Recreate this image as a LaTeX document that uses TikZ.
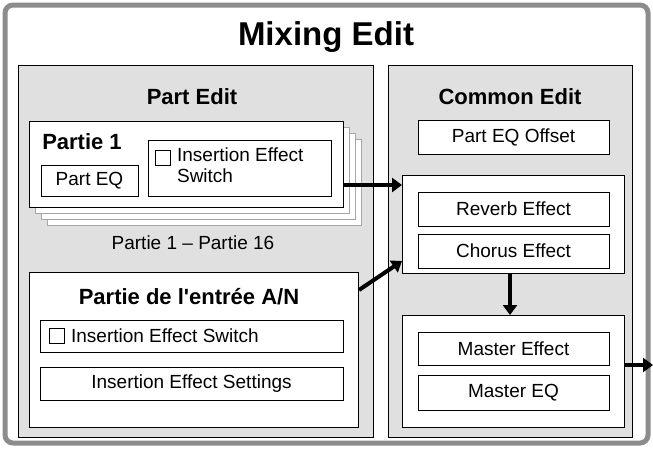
\documentclass[tikz,border=0pt]{standalone}
\usepackage{fontspec}
\setmainfont{Liberation Sans}
\usetikzlibrary{arrows.meta,positioning,calc}

\tikzset{
  panel/.style={draw=black, line width=1pt, fill=black!12, anchor=north west, inner sep=0pt},
  group/.style={draw=black, line width=1pt, fill=white, anchor=north west, inner sep=0pt},
  item/.style={draw=black, line width=1pt, fill=white, minimum height=33pt, font=\fontsize{19}{21}\selectfont},
  card/.style={draw=black!35, fill=white, anchor=north west, inner sep=0pt, minimum width=314pt, minimum height=86pt},
  chk/.style={draw=black, line width=0.8pt, minimum size=15pt, inner sep=0pt},
  flow/.style={line width=4pt, -{Triangle[length=10pt,width=14pt]}}
}

\begin{document}
\begin{tikzpicture}[x=1pt,y=-1pt]
\useasboundingbox (0,0) rectangle (653,448);

% Outer frame
\draw[line width=5pt, draw=black!45, fill=white, rounded corners=8pt] (5,5) rectangle (648,443);
\node[font=\bfseries\fontsize{33}{36}\selectfont] (mix) at (326,37) {Mixing Edit};

% Part Edit
\node[panel, minimum width=355pt, minimum height=372pt] (partedit) at (18,65) {};
\node[font=\bfseries\fontsize{22}{24}\selectfont] (parttitle) at (192,97) {Part Edit};
\foreach \d in {18,12,6}
  \node[card] at (29+\d,121+\d) {};
\node[card, draw=black, line width=1pt] (part1) at (29,121) {};
\node[font=\bfseries\fontsize{22}{24}\selectfont] (p1title) at (82,142) {Partie 1};
\node[item, minimum width=97pt, minimum height=31pt] (parteq) at (89.5,180.5) {Part EQ};
\node[item, minimum width=183pt, minimum height=56pt] (insbox) at (239.5,168) {};
\node[chk] (chk1) at (163,158) {};
\node[right=6pt of chk1.north east, anchor=north west, align=left, inner sep=0pt,
      font=\fontsize{19}{21}\selectfont, yshift=3pt] (instext) {Insertion Effect\\Switch};
\node[font=\fontsize{19}{21}\selectfont] (range) at (193,243) {Partie 1 -- Partie 16};

% A/N part
\node[group, minimum width=329pt, minimum height=155pt] (adpart) at (29,272) {};
\node[font=\bfseries\fontsize{22}{24}\selectfont] (adtitle) at (189,297) {Partie de l\textquotesingle entrée A/N};
\node[item, minimum width=303pt, minimum height=32pt] (adsw) at (191.5,336) {};
\node[chk] (chk2) at (57,336) {};
\node[right=6pt of chk2, inner sep=0pt, font=\fontsize{19}{21}\selectfont] (adswtext) {Insertion Effect Switch};
\node[item, minimum width=303pt] (adset) at (191.5,383.5) {Insertion Effect Settings};

% Common Edit
\node[panel, minimum width=244pt, minimum height=372pt] (common) at (388,65) {};
\node[font=\bfseries\fontsize{22}{24}\selectfont] (comtitle) at (510,97) {Common Edit};
\node[item, minimum width=191pt, minimum height=34pt] (eqoff) at (513.5,137) {Part EQ Offset};
\node[group, minimum width=222pt, minimum height=98pt] (fxgroup) at (402,175) {};
\node[item, minimum width=191pt, minimum height=34pt] (reverb) at (513.5,209) {Reverb Effect};
\node[item, minimum width=191pt, minimum height=34pt] (chorus) at (513.5,251) {Chorus Effect};
\node[group, minimum width=222pt, minimum height=112pt] (mastergroup) at (402,315) {};
\node[item, minimum width=191pt] (mfx) at (513.5,348.5) {Master Effect};
\node[item, minimum width=191pt, minimum height=35pt] (meq) at (513.5,392.5) {Master EQ};
\coordinate (out) at (653,365);

% Connectors
\draw[flow] (part1.east |- 0,185) -- (fxgroup.west |- 0,185);
\draw[flow] ($(adpart.north east)+(0,18)$) -- ($(fxgroup.south west)+(0,-13)$);
\draw[flow] (fxgroup.south -| 510,0) -- (mastergroup.north -| 510,0);
\draw[flow] (mastergroup.east |- out) -- (out);
\end{tikzpicture}
\end{document}
